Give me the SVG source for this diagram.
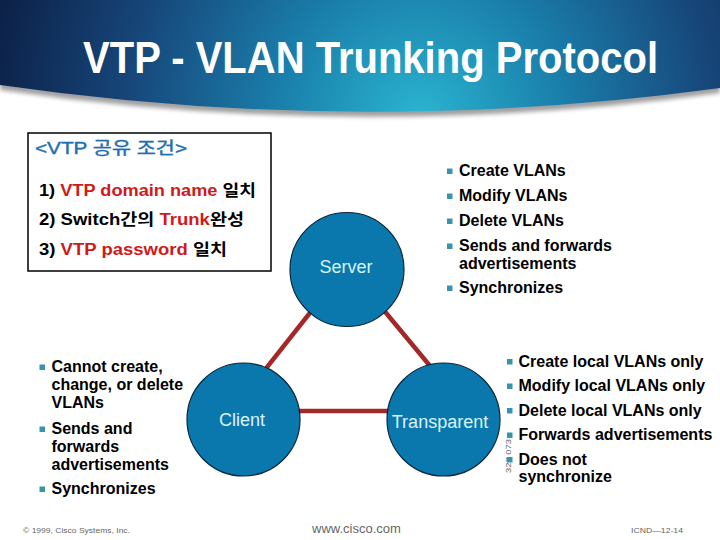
<svg xmlns="http://www.w3.org/2000/svg" width="720" height="540" viewBox="0 0 720 540">
<defs>
<radialGradient id="hdr" gradientUnits="userSpaceOnUse" cx="420" cy="118" r="430">
<stop offset="0" stop-color="#2ab4d0"/>
<stop offset="0.33" stop-color="#1a7fab"/>
<stop offset="0.68" stop-color="#17467a"/>
<stop offset="1" stop-color="#0c2249"/>
</radialGradient>
<filter id="blur" x="-5%" y="-20%" width="110%" height="140%"><feGaussianBlur stdDeviation="2"/></filter>
<style>
.li{font-family:"Liberation Sans",Arial,sans-serif;font-size:16px;font-weight:bold;fill:#000}
.bx{font-family:"Liberation Sans","Noto Sans CJK KR",sans-serif;font-size:16px;font-weight:bold;fill:#000}
.red{fill:#d01a1a}
.nd circle{fill:#0b78ad;stroke:#0a2438;stroke-width:1.2}
.nd text{font-family:"Liberation Sans",Arial,sans-serif;font-size:18px;fill:#d8f4ff;text-anchor:middle}
.bul{fill:#3a93ad}
.ft{font-family:"Liberation Sans",Arial,sans-serif;fill:#666}
.edge{stroke:#a3282a;stroke-width:4.5;fill:none}
</style>
</defs>
<rect width="720" height="540" fill="#fff"/>
<g id="header">
<path d="M0,4 H720 V93 Q360,142 0,90 Z" fill="#777" opacity="0.7" filter="url(#blur)"/>
<path d="M0,0 H720 V88 Q360,137 0,85 Z" fill="url(#hdr)"/>
<text x="83" y="73" font-family="Liberation Sans, Arial, sans-serif" font-size="45" font-weight="bold" fill="#fff" textLength="575" lengthAdjust="spacingAndGlyphs">VTP - VLAN Trunking Protocol</text>
</g>
<g id="conditions">
<rect x="28" y="133" width="243" height="138" fill="#fff" stroke="#000" stroke-width="1.5"/>
<text x="35" y="154" font-family="Liberation Sans, 'Noto Sans CJK KR', sans-serif" font-size="17" fill="#1e6eb0" stroke="#1e6eb0" stroke-width="0.4" textLength="152" lengthAdjust="spacingAndGlyphs">&lt;VTP 공유 조건&gt;</text>
<text class="bx" x="39" y="196" textLength="217" lengthAdjust="spacingAndGlyphs">1) <tspan class="red">VTP domain name</tspan> 일치</text>
<text class="bx" x="39" y="225" textLength="205" lengthAdjust="spacingAndGlyphs">2) Switch간의 <tspan class="red">Trunk</tspan>완성</text>
<text class="bx" x="39" y="255" textLength="188" lengthAdjust="spacingAndGlyphs">3) <tspan class="red">VTP password</tspan> 일치</text>
</g>
<g id="connectors">
<line class="edge" x1="328" y1="290" x2="249" y2="390"/>
<line class="edge" x1="367" y1="290" x2="450" y2="390"/>
<line class="edge" x1="260" y1="411" x2="425" y2="411"/>
</g>
<g id="server" class="nd">
<circle cx="347" cy="269.5" r="57"/>
<text x="346" y="273">Server</text>
</g>
<g id="client" class="nd">
<circle cx="243.5" cy="419.5" r="56.5"/>
<text x="242" y="426">Client</text>
</g>
<g id="transparent" class="nd">
<circle cx="443.5" cy="419.5" r="56.5"/>
<text x="440" y="428">Transparent</text>
</g>
<g id="server-list">
<rect class="bul" x="447" y="168.5" width="5.5" height="5.5"/>
<text class="li" x="459" y="176">Create VLANs</text>
<rect class="bul" x="447" y="193.5" width="5.5" height="5.5"/>
<text class="li" x="459" y="201">Modify VLANs</text>
<rect class="bul" x="447" y="218.5" width="5.5" height="5.5"/>
<text class="li" x="459" y="226">Delete VLANs</text>
<rect class="bul" x="447" y="243.5" width="5.5" height="5.5"/>
<text class="li" x="459" y="251">Sends and forwards</text>
<text class="li" x="459" y="268.5">advertisements</text>
<rect class="bul" x="447" y="285.5" width="5.5" height="5.5"/>
<text class="li" x="459" y="293">Synchronizes</text>
</g>
<g id="client-list">
<rect class="bul" x="39.5" y="364.5" width="5.5" height="5.5"/>
<text class="li" x="51.5" y="372">Cannot create,</text>
<text class="li" x="51.5" y="390">change, or delete</text>
<text class="li" x="51.5" y="408">VLANs</text>
<rect class="bul" x="39.5" y="426.5" width="5.5" height="5.5"/>
<text class="li" x="51.5" y="434">Sends and</text>
<text class="li" x="51.5" y="452">forwards</text>
<text class="li" x="51.5" y="470">advertisements</text>
<rect class="bul" x="39.5" y="486.5" width="5.5" height="5.5"/>
<text class="li" x="51.5" y="494">Synchronizes</text>
</g>
<g id="transparent-list">
<text class="ft" transform="translate(511,473) rotate(-90)" font-size="7.5" textLength="34" lengthAdjust="spacingAndGlyphs">327 073</text>
<rect class="bul" x="507" y="359" width="5.5" height="5.5"/>
<text class="li" x="518.5" y="366.5">Create local VLANs only</text>
<rect class="bul" x="507" y="383.5" width="5.5" height="5.5"/>
<text class="li" x="518.5" y="391">Modify local VLANs only</text>
<rect class="bul" x="507" y="408" width="5.5" height="5.5"/>
<text class="li" x="518.5" y="415.5">Delete local VLANs only</text>
<rect class="bul" x="507" y="432.5" width="5.5" height="5.5"/>
<text class="li" x="518.5" y="440">Forwards advertisements</text>
<rect class="bul" x="507" y="457" width="5.5" height="5.5"/>
<text class="li" x="518.5" y="464.5">Does not</text>
<text class="li" x="518.5" y="482">synchronize</text>
</g>
<g id="footer">
<text class="ft" x="23" y="533" font-size="8" textLength="107" lengthAdjust="spacingAndGlyphs">© 1999, Cisco Systems, Inc.</text>
<text class="ft" x="312" y="533" font-size="13">www.cisco.com</text>
<text class="ft" x="631" y="533" font-size="8" textLength="52" lengthAdjust="spacingAndGlyphs">ICND—12-14</text>
</g>
</svg>
